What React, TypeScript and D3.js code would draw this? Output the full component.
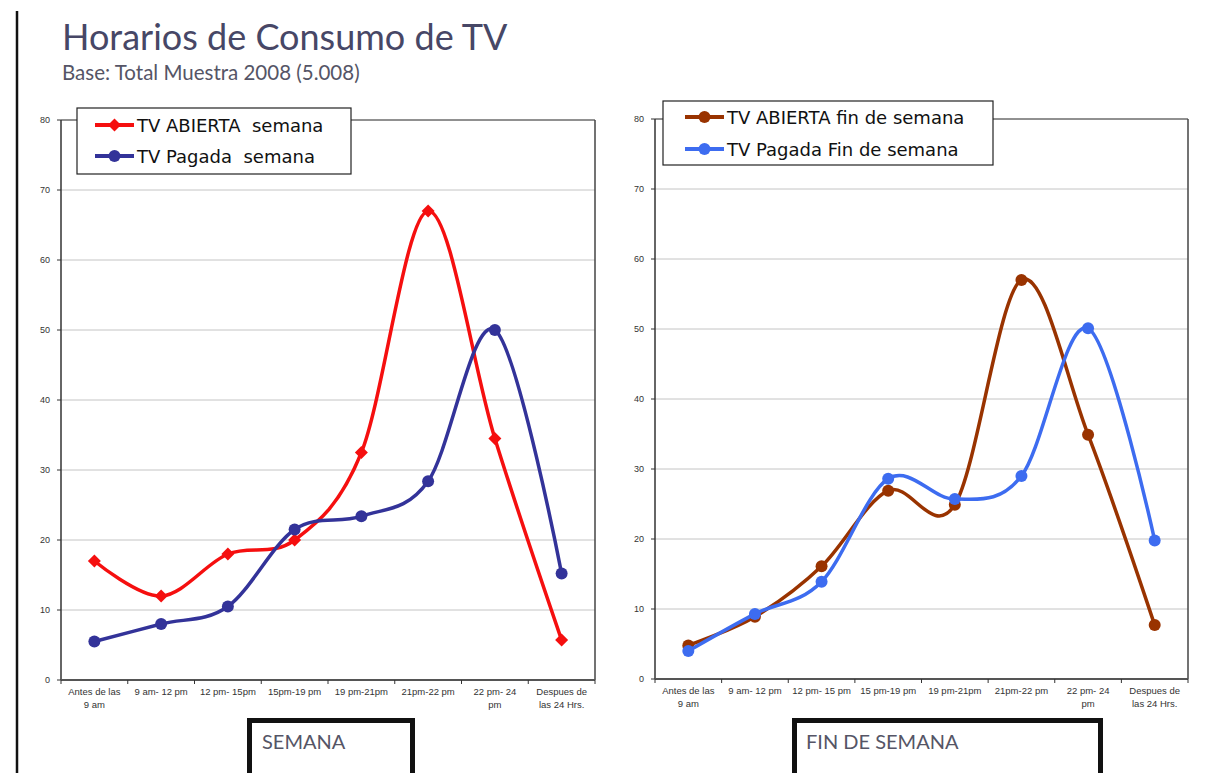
import React from "react";
import * as d3 from "d3";

const categoriesLeft = [
  ["Antes de las", "9 am"],
  ["9 am- 12 pm"],
  ["12 pm- 15pm"],
  ["15pm-19 pm"],
  ["19 pm-21pm"],
  ["21pm-22 pm"],
  ["22 pm- 24", "pm"],
  ["Despues de", "las 24 Hrs."],
];
const categoriesRight = [
  ["Antes de las", "9 am"],
  ["9 am- 12 pm"],
  ["12 pm- 15 pm"],
  ["15 pm-19 pm"],
  ["19 pm-21pm"],
  ["21pm-22 pm"],
  ["22 pm- 24", "pm"],
  ["Despues de", "las 24 Hrs."],
];
const yTicks = [0, 10, 20, 30, 40, 50, 60, 70, 80];

const abiertaSemana = [17, 12, 18, 20, 32.5, 67, 34.5, 5.7];
const pagadaSemana = [5.5, 8, 10.5, 21.5, 23.4, 28.4, 50, 15.2];
const abiertaFin = [4.8, 8.9, 16.1, 26.9, 24.9, 57, 34.9, 7.7];
const pagadaFin = [4.0, 9.3, 13.9, 28.6, 25.7, 29, 50.1, 19.8];

type Series = { name: string; values: number[]; color: string; marker: "diamond" | "circle" };

const leftSeries: Series[] = [
  { name: "TV ABIERTA  semana", values: abiertaSemana, color: "#f50f0f", marker: "diamond" },
  { name: "TV Pagada  semana", values: pagadaSemana, color: "#333399", marker: "circle" },
];
const rightSeries: Series[] = [
  { name: "TV ABIERTA fin de semana", values: abiertaFin, color: "#993300", marker: "circle" },
  { name: "TV Pagada Fin de semana", values: pagadaFin, color: "#3d6cf0", marker: "circle" },
];

function Marker({ x, y, color, kind }: { x: number; y: number; color: string; kind: string }) {
  if (kind === "diamond") {
    const s = 6.5;
    return <path d={`M${x},${y - s}L${x + s},${y}L${x},${y + s}L${x - s},${y}Z`} fill={color} />;
  }
  return <circle cx={x} cy={y} r={6} fill={color} />;
}

function Chart({
  x0, x1, y0, y1, cats, series, legend,
}: {
  x0: number; x1: number; y0: number; y1: number; cats: string[][]; series: Series[];
  legend: { x: number; y: number; w: number; h: number; rows: number[]; lx: number };
}) {
  const band = d3.scaleBand<number>().domain(d3.range(cats.length)).range([x0, x1]);
  const y = d3.scaleLinear().domain([0, 80]).range([y1, y0]);
  const cx = (i: number) => (band(i) as number) + band.bandwidth() / 2;
  const line = d3
    .line<number>()
    .x((_, i) => cx(i))
    .y((v) => y(v))
    .curve(d3.curveCardinal.tension(0));
  const labelFont = "'Liberation Sans Narrow', 'Liberation Sans', Arial, sans-serif";
  return (
    <g>
      {yTicks.filter((t) => t > 0 && t < 80).map((t) => (
        <line key={t} x1={x0} x2={x1} y1={y(t)} y2={y(t)} stroke="#c4c4c4" strokeWidth={1} />
      ))}
      <line x1={x0} x2={x1} y1={y0} y2={y0} stroke="#222" strokeWidth={1} />
      <line x1={x1} x2={x1} y1={y0} y2={y1} stroke="#444" strokeWidth={1.5} />
      <line x1={x0} x2={x0} y1={y0} y2={y1} stroke="#333" strokeWidth={1.5} />
      <line x1={x0} x2={x1} y1={y1} y2={y1} stroke="#555" strokeWidth={2} />
      {yTicks.map((t) => (
        <g key={t}>
          <line x1={x0 - 4} x2={x0} y1={y(t)} y2={y(t)} stroke="#333" />
          <text x={x0 - 11} y={y(t) + 3} fontSize={9} textAnchor="end" fill="#333" fontFamily={labelFont}>
            {t}
          </text>
        </g>
      ))}
      {d3.range(cats.length + 1).map((i) => {
        const xx = i < cats.length ? (band(i) as number) : x1;
        return <line key={i} x1={xx} x2={xx} y1={y1} y2={y1 + 4} stroke="#333" />;
      })}
      {cats.map((c, i) => (
        <text key={i} x={cx(i)} y={y1 + 15} fontSize={9.5} textAnchor="middle" fill="#333" fontFamily={labelFont}>
          {c.map((l, j) => (
            <tspan key={j} x={cx(i)} dy={j === 0 ? 0 : 13}>
              {l}
            </tspan>
          ))}
        </text>
      ))}
      {series.map((s) => (
        <g key={s.name}>
          <path d={line(s.values) as string} fill="none" stroke={s.color} strokeWidth={3.5} />
          {s.values.map((v, i) => (
            <Marker key={i} x={cx(i)} y={y(v)} color={s.color} kind={s.marker} />
          ))}
        </g>
      ))}
      <rect x={legend.x} y={legend.y} width={legend.w} height={legend.h} fill="#fff" stroke="#222" strokeWidth={1.2} />
      {series.map((s, k) => {
        const ry = legend.rows[k];
        const lx = legend.lx;
        return (
          <g key={s.name}>
            <line x1={lx} x2={lx + 39} y1={ry} y2={ry} stroke={s.color} strokeWidth={4} />
            <Marker x={lx + 19.5} y={ry} color={s.color} kind={s.marker} />
            <text
              x={lx + 42}
              y={ry + 7}
              fontSize={18}
              fill="#111"
              fontFamily="'DejaVu Sans', Verdana, sans-serif"
              style={{ whiteSpace: "pre" }}
            >
              {s.name}
            </text>
          </g>
        );
      })}
    </g>
  );
}

export default function App() {
  const titleFont = "Lato, 'Open Sans', sans-serif";
  return (
    <div style={{ position: "absolute", left: 0, top: 0 }}>
      <svg width={1216} height={773} style={{ display: "block", background: "#fff" }}>
        <line x1={17} x2={17} y1={11} y2={773} stroke="#111" strokeWidth={2.5} />
        <text x={62} y={50} fontSize={36} fill="#474766" fontFamily={titleFont}>
          Horarios de Consumo de TV
        </text>
        <text x={62} y={80} fontSize={20.5} fill="#555566" fontFamily={titleFont}>
          Base: Total Muestra 2008 (5.008)
        </text>
        <Chart
          x0={61}
          x1={595}
          y0={120}
          y1={680}
          cats={categoriesLeft}
          series={leftSeries}
          legend={{ x: 77, y: 108, w: 274, h: 66, rows: [125, 156], lx: 95 }}
        />
        <Chart
          x0={655}
          x1={1188}
          y0={119}
          y1={679}
          cats={categoriesRight}
          series={rightSeries}
          legend={{ x: 663, y: 101, w: 330, h: 64, rows: [117, 149], lx: 685 }}
        />
        <rect x={249.5} y={720.5} width={163} height={60} fill="none" stroke="#111" strokeWidth={5} />
        <text x={262} y={749} fontSize={20} fill="#555566" fontFamily={titleFont}>
          SEMANA
        </text>
        <rect x={794.5} y={720.5} width={306} height={60} fill="none" stroke="#111" strokeWidth={5} />
        <text x={806} y={749} fontSize={20} fill="#555566" fontFamily={titleFont}>
          FIN DE SEMANA
        </text>
      </svg>
    </div>
  );
}
